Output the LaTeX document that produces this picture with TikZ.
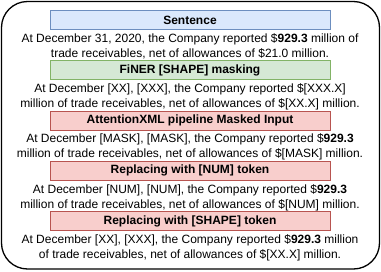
\documentclass[tikz,border=0pt]{standalone}
\usepackage{fontspec}
\setmainfont{Liberation Sans}
\definecolor{bluefill}{HTML}{DAE8FC}
\definecolor{bluedraw}{HTML}{6C8EBF}
\definecolor{greenfill}{HTML}{D5E8D4}
\definecolor{greendraw}{HTML}{82B366}
\definecolor{redfill}{HTML}{F8CECC}
\definecolor{reddraw}{HTML}{B85450}
\tikzset{
  x=1pt, y=-1pt,
  labelbox/.style={draw, line width=0.9pt, minimum width=280pt, minimum height=19pt, inner sep=0pt,
    font=\fontsize{12}{15}\selectfont\bfseries, anchor=north},
  bluebox/.style={labelbox, fill=bluefill, draw=bluedraw},
  greenbox/.style={labelbox, fill=greenfill, draw=greendraw},
  redbox/.style={labelbox, fill=redfill, draw=reddraw},
  bodytext/.style={align=center, inner sep=0pt, font=\fontsize{12}{15}\selectfont, anchor=center},
  outer/.style={draw, line width=1.3pt, rounded corners=26pt}
}
\begin{document}
\begin{tikzpicture}
\useasboundingbox (0,0) rectangle (381,271);
\draw[outer] (1.5,1.5) rectangle (379.5,269);
\node[bluebox] (b1) at (190,10) {Sentence};
\node[bodytext] (t1) at (190,46.5) {At December 31, 2020, the Company reported \$\textbf{929.3} million of\\trade receivables, net of allowances of \$21.0 million.};
\node[greenbox] (b2) at (190,60.3) {FiNER [SHAPE] masking};
\node[bodytext] (t2) at (190,96.8) {At December [XX], [XXX], the Company reported \$[XXX.X]\\million of trade receivables, net of allowances of \$[XX.X] million.};
\node[redbox] (b3) at (190,110.6) {AttentionXML pipeline Masked Input};
\node[bodytext] (t3) at (190,147.1) {At December [MASK], [MASK], the Company reported \$\textbf{929.3}\\million of trade receivables, net of allowances of \$[MASK] million.};
\node[redbox] (b4) at (190,160.9) {Replacing with [NUM] token};
\node[bodytext] (t4) at (190,197.4) {At December [NUM], [NUM], the Company reported \$\textbf{929.3}\\million of trade receivables, net of allowances of \$[NUM] million.};
\node[redbox] (b5) at (190,211.2) {Replacing with [SHAPE] token};
\node[bodytext] (t5) at (190,247.7) {At December [XX], [XXX], the Company reported \$\textbf{929.3} million\\of trade receivables, net of allowances of \$[XX.X] million.};
\end{tikzpicture}
\end{document}
